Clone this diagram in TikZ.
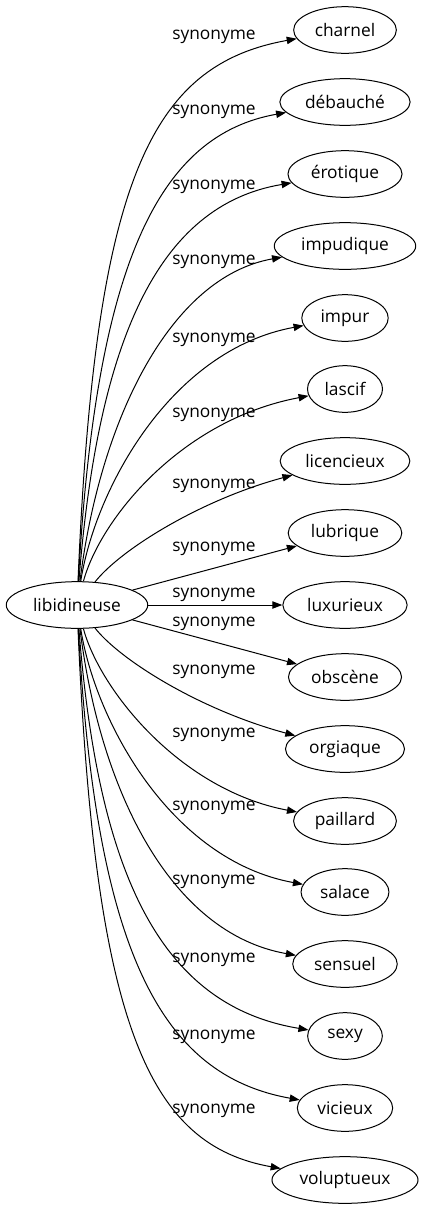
\documentclass[tikz,border=0pt]{standalone}
\usepackage{fontspec}
\setmainfont{Open Sans}
\usetikzlibrary{shapes.geometric,arrows.meta}

\tikzset{
  word/.style={draw, ellipse, line width=0.75pt, minimum height=35pt, minimum width=56pt,
    inner xsep=4.6pt, inner ysep=0pt, font=\fontsize{13}{15}\selectfont},
  syn/.style={line width=0.75pt, -{Triangle[length=7.5pt,width=5.5pt]}},
  synlabel/.style={inner sep=0pt, font=\fontsize{13}{15}\selectfont}
}

\begin{document}
\begin{tikzpicture}[x=0.75pt, y=-0.75pt]
\useasboundingbox (0,0) rectangle (423,1211);

% root word
\node[word] (libidineuse) at (77,605) {libidineuse};

% synonyms, one column
\node[word] (charnel) at (345,30) {charnel};
\node[word] (debauche) at (345,102) {débauché};
\node[word] (erotique) at (345,174) {érotique};
\node[word] (impudique) at (345,246) {impudique};
\node[word] (impur) at (345,318) {impur};
\node[word] (lascif) at (345,389) {lascif};
\node[word] (licencieux) at (345,461) {licencieux};
\node[word] (lubrique) at (345,533) {lubrique};
\node[word] (luxurieux) at (345,605) {luxurieux};
\node[word] (obscene) at (345,677) {obscène};
\node[word] (orgiaque) at (345,749) {orgiaque};
\node[word] (paillard) at (345,821) {paillard};
\node[word] (salace) at (345,892) {salace};
\node[word] (sensuel) at (345,964) {sensuel};
\node[word] (sexy) at (345,1036) {sexy};
\node[word] (vicieux) at (345,1108) {vicieux};
\node[word] (voluptueux) at (345,1180) {voluptueux};

% edges, upper half
\draw[syn] (libidineuse) .. controls (95,180) and (150,65) .. (charnel);
\draw[syn] (libidineuse) .. controls (96,260) and (160,135) .. (debauche);
\draw[syn] (libidineuse) .. controls (98,340) and (158,205) .. (erotique);
\draw[syn] (libidineuse) .. controls (100,420) and (170,277) .. (impudique);
\draw[syn] (libidineuse) .. controls (95,490) and (170,350) .. (impur);
\draw[syn] (libidineuse) .. controls (100,520) and (180,420) .. (lascif);
\draw[syn] (libidineuse) .. controls (120,550) and (200,500) .. (licencieux);
\draw[syn] (libidineuse) -- (lubrique);
\draw[syn] (libidineuse) -- (luxurieux);
% edges, lower half
\draw[syn] (libidineuse) -- (obscene);
\draw[syn] (libidineuse) .. controls (120,660) and (200,710) .. (orgiaque);
\draw[syn] (libidineuse) .. controls (100,690) and (180,790) .. (paillard);
\draw[syn] (libidineuse) .. controls (95,720) and (170,860) .. (salace);
\draw[syn] (libidineuse) .. controls (100,790) and (170,933) .. (sensuel);
\draw[syn] (libidineuse) .. controls (98,870) and (158,1005) .. (sexy);
\draw[syn] (libidineuse) .. controls (96,950) and (160,1075) .. (vicieux);
\draw[syn] (libidineuse) .. controls (95,1030) and (150,1145) .. (voluptueux);

% edge labels
\node[synlabel] (lab1) at (214,37) {synonyme};
\node[synlabel] (lab2) at (214,112) {synonyme};
\node[synlabel] (lab3) at (214,187) {synonyme};
\node[synlabel] (lab4) at (214,262) {synonyme};
\node[synlabel] (lab5) at (214,340) {synonyme};
\node[synlabel] (lab6) at (214,415) {synonyme};
\node[synlabel] (lab7) at (214,486) {synonyme};
\node[synlabel] (lab8) at (214,549) {synonyme};
\node[synlabel] (lab9) at (214,595) {synonyme};
\node[synlabel] (lab10) at (214,624) {synonyme};
\node[synlabel] (lab11) at (214,672) {synonyme};
\node[synlabel] (lab12) at (214,735) {synonyme};
\node[synlabel] (lab13) at (214,808) {synonyme};
\node[synlabel] (lab14) at (214,882) {synonyme};
\node[synlabel] (lab15) at (214,960) {synonyme};
\node[synlabel] (lab16) at (214,1037) {synonyme};
\node[synlabel] (lab17) at (214,1111) {synonyme};
\end{tikzpicture}
\end{document}
